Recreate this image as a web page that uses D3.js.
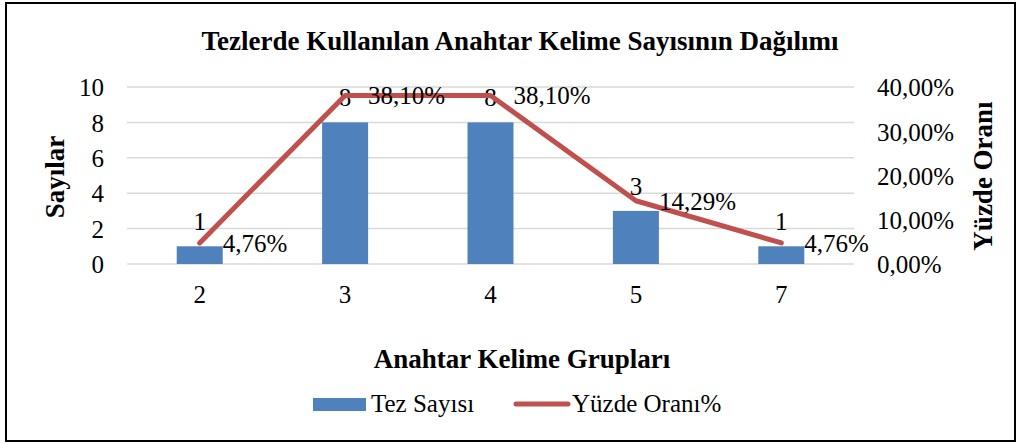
<!DOCTYPE html>
<html><head><meta charset="utf-8">
<script src="https://cdn.jsdelivr.net/npm/d3@7"></script>
<style>body{margin:0;background:#fff}svg{display:block}</style>
</head><body><svg id="c" width="1019" height="444"></svg>
<script>
const categories = ["2","3","4","5","7"];
const counts = [1,8,8,3,1];
const percents = [4.76,38.10,38.10,14.29,4.76];
const leftTicks = [0,2,4,6,8,10];
const rightTicks = [0,10,20,30,40];
const title = "Tezlerde Kullanılan Anahtar Kelime Sayısının Dağılımı";
const xTitle = "Anahtar Kelime Grupları";
const yTitle = "Sayılar";
const y2Title = "Yüzde Oranı";
const seriesNames = ["Tez Sayısı","Yüzde Oranı%"];

const FONT = "'Liberation Serif','Times New Roman',serif";
const FS = "25px";
const svg = d3.select("#c");
const plot = {l:127, r:854, t:87, b:264};
const barColor="#4F81BD", lineColor="#C0504D", gridColor="#D9D9D9";
const fmt = v => d3.format(".2f")(v).replace(".", ",") + "%";

svg.append("rect").attr("x",6).attr("y",3).attr("width",1009).attr("height",438)
  .attr("fill","#fff").attr("stroke","#000").attr("stroke-width",2);

const x = d3.scaleBand().domain(categories).range([plot.l,plot.r]).paddingInner(0).paddingOuter(0);
const y = d3.scaleLinear().domain([0,10]).range([plot.b,plot.t]);
const y2 = d3.scaleLinear().domain([0,40]).range([plot.b,plot.t]);

svg.append("g").selectAll("line").data(leftTicks).join("line")
  .attr("x1",plot.l).attr("x2",plot.r).attr("y1",d=>y(d)).attr("y2",d=>y(d))
  .attr("stroke",gridColor).attr("stroke-width",1.5);

const yAxis = d3.axisLeft(y).tickValues(leftTicks).tickSize(0).tickPadding(0).tickFormat(d3.format("d"));
const gy = svg.append("g").attr("transform",`translate(${plot.l-23},0)`).call(yAxis);
gy.select(".domain").remove();
gy.attr("font-family",null).attr("font-size",null);
gy.selectAll("text").style("font-family",FONT).style("font-size",FS).attr("dy","0.35em").attr("fill","#000");

const y2Axis = d3.axisRight(y2).tickValues(rightTicks).tickSize(0).tickPadding(0).tickFormat(d=>fmt(d));
const gy2 = svg.append("g").attr("transform",`translate(${plot.r+23},0)`).call(y2Axis);
gy2.select(".domain").remove();
gy2.attr("font-family",null).attr("font-size",null);
gy2.selectAll("text").style("font-family",FONT).style("font-size",FS).attr("dy","0.35em").attr("fill","#000");

const xAxis = d3.axisBottom(x).tickSize(0).tickPadding(0);
const gx = svg.append("g").attr("transform",`translate(0,${plot.b+39})`).call(xAxis);
gx.select(".domain").remove();
gx.attr("font-family",null).attr("font-size",null);
gx.selectAll("text").style("font-family",FONT).style("font-size",FS).attr("dy","0").attr("fill","#000");

const bw = 46;
svg.append("g").selectAll("rect").data(counts).join("rect")
  .attr("x",(d,i)=>x(categories[i])+x.bandwidth()/2-bw/2)
  .attr("width",bw).attr("y",d=>y(d)).attr("height",d=>y(0)-y(d))
  .attr("fill",barColor);

svg.append("g").selectAll("text").data(counts).join("text")
  .attr("x",(d,i)=>x(categories[i])+x.bandwidth()/2)
  .attr("y",d=>y(d)-16).attr("text-anchor","middle")
  .style("font-family",FONT).style("font-size",FS).text(d=>d);

const line = d3.line().x((d,i)=>x(categories[i])+x.bandwidth()/2).y(d=>y2(d));
svg.append("path").datum(percents).attr("d",line).attr("fill","none")
  .attr("stroke",lineColor).attr("stroke-width",5).attr("stroke-linejoin","round").attr("stroke-linecap","round");

svg.append("g").selectAll("text").data(percents).join("text")
  .attr("x",(d,i)=>x(categories[i])+x.bandwidth()/2+23)
  .attr("y",d=>y2(d)+9)
  .style("font-family",FONT).style("font-size",FS).text(d=>fmt(d));

function boldText(t){ return t.style("font-family",FONT).style("font-size","27px").style("font-weight","bold"); }
boldText(svg.append("text").attr("x",520).attr("y",50).attr("text-anchor","middle").text(title));
boldText(svg.append("text").attr("x",522).attr("y",368).attr("text-anchor","middle").text(xTitle));
boldText(svg.append("text").attr("transform","translate(64,177) rotate(-90)").attr("text-anchor","middle").text(yTitle));
boldText(svg.append("text").attr("transform","translate(992,176) rotate(-90)").attr("text-anchor","middle").text(y2Title));

const lg = svg.append("g");
lg.append("rect").attr("x",313).attr("y",398).attr("width",53).attr("height",13).attr("fill",barColor);
lg.append("text").attr("x",371).attr("y",412).style("font-family",FONT).style("font-size",FS).text(seriesNames[0]);
lg.append("line").attr("x1",516).attr("x2",568).attr("y1",404).attr("y2",404)
  .attr("stroke",lineColor).attr("stroke-width",5).attr("stroke-linecap","round");
lg.append("text").attr("x",572).attr("y",412).style("font-family",FONT).style("font-size",FS).text(seriesNames[1]);
</script></body></html>
